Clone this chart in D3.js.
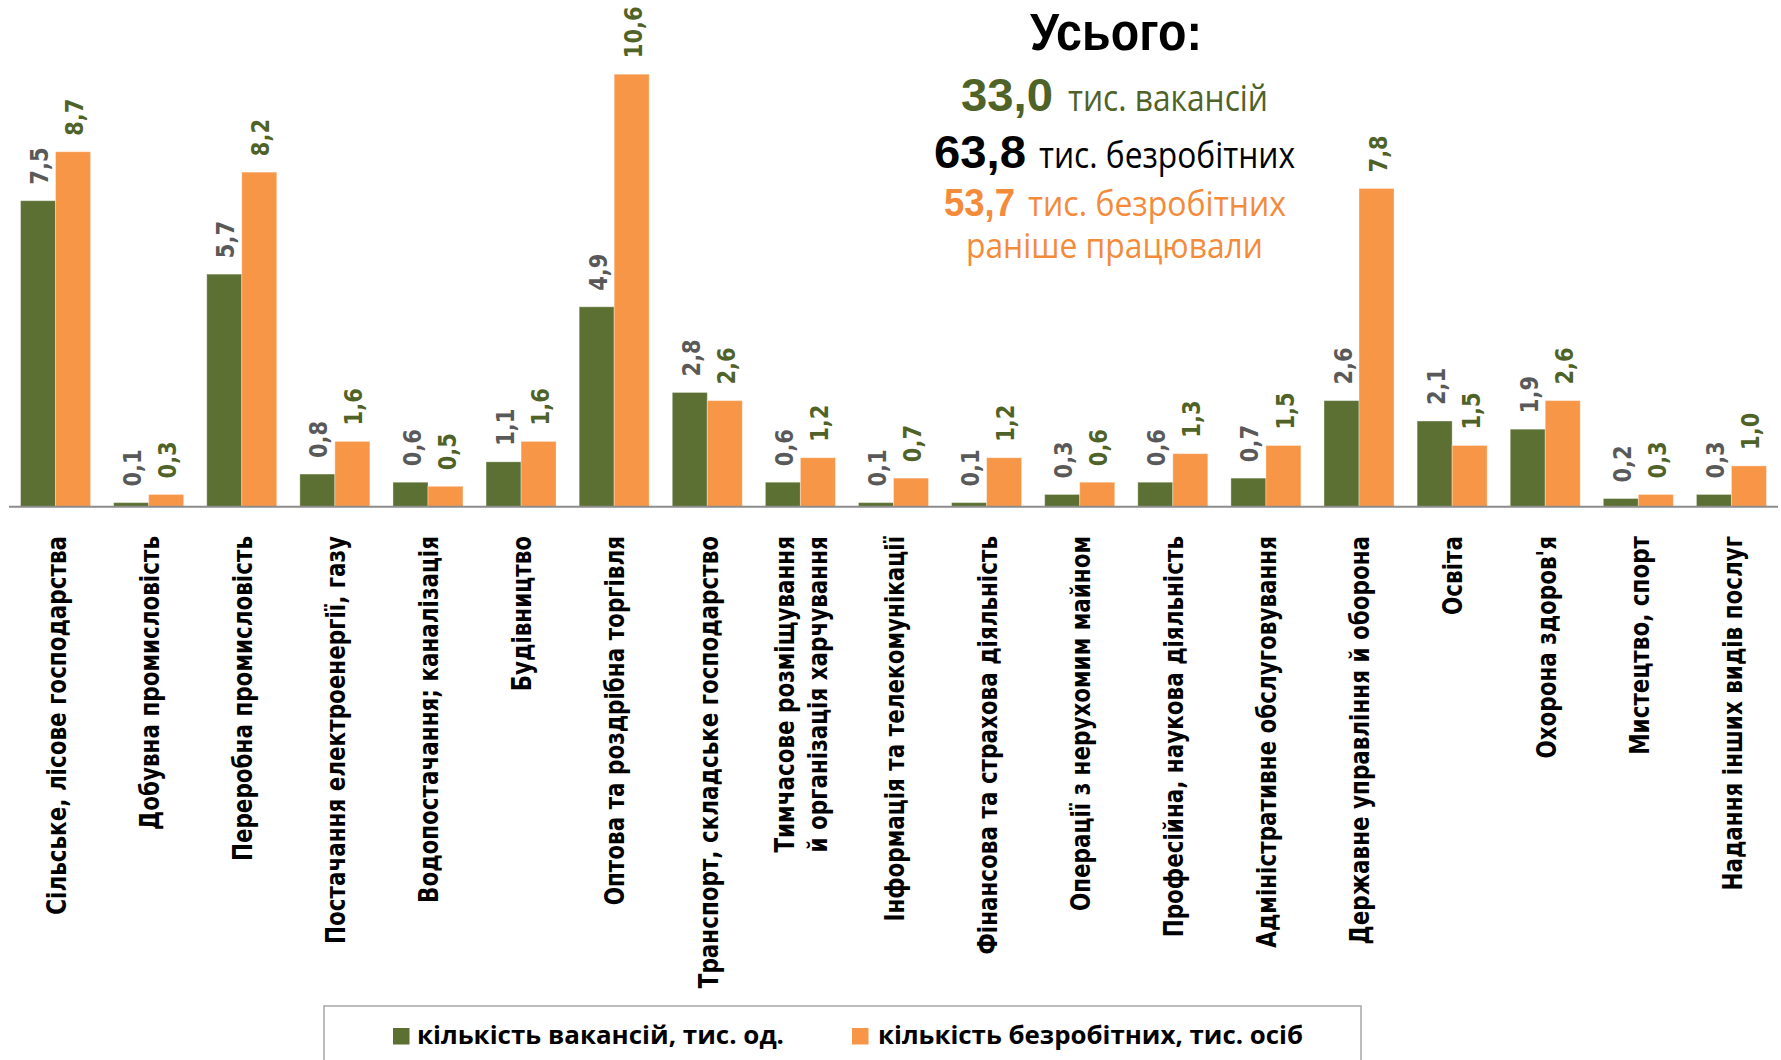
<!DOCTYPE html>
<html>
<head>
<meta charset="utf-8">
<script src="https://cdn.jsdelivr.net/npm/d3@7"></script>
<style>
  body { margin: 0; background: #fff; }
  svg { display: block; }
  .cat { font-family: "DejaVu Sans", Verdana, sans-serif; font-weight: bold; font-size: 21.5px; fill: #000; }
  .val { font-family: "DejaVu Sans", Verdana, sans-serif; font-weight: bold; font-size: 21px; }
  .num { font-family: "Liberation Sans Narrow", "Liberation Sans", Arial, sans-serif; font-weight: bold; }
  .words { font-family: "Open Sans", "Noto Sans", sans-serif; }
  .leg { font-family: "Open Sans", "Noto Sans", sans-serif; font-weight: bold; font-size: 25px; }
</style>
</head>
<body>
<svg class="chart"></svg>
<script>
// categories (economic activities)
var categories = [
  "Сільське, лісове господарства",
  "Добувна промисловість",
  "Переробна промисловість",
  "Постачання електроенергії, газу",
  "Водопостачання; каналізація",
  "Будівництво",
  "Оптова та роздрібна торгівля",
  "Транспорт, складське господарство",
  "Тимчасове розміщування\nй організація харчування",
  "Інформація та телекомунікації",
  "Фінансова та страхова діяльність",
  "Операції з нерухомим майном",
  "Професійна, наукова діяльність",
  "Адміністративне обслуговування",
  "Державне управління й оборона",
  "Освіта",
  "Охорона здоров'я",
  "Мистецтво, спорт",
  "Надання інших видів послуг"
];

// кількість вакансій, тис. од.
var vacancies = [7.5, 0.1, 5.7, 0.8, 0.6, 1.1, 4.9, 2.8, 0.6, 0.1, 0.1, 0.3, 0.6, 0.7, 2.6, 2.1, 1.9, 0.2, 0.3];
// кількість безробітних, тис. осіб
var unemployed = [8.7, 0.3, 8.2, 1.6, 0.5, 1.6, 10.6, 2.6, 1.2, 0.7, 1.2, 0.6, 1.3, 1.5, 7.8, 1.5, 2.6, 0.3, 1.0];

var seriesNames = ["кількість вакансій, тис. од.", "кількість безробітних, тис. осіб"];

// totals block
var totalTitle = "Усього:";
var totalVacancies = "33,0";
var totalUnemployed = "63,8";
var totalWorkedBefore = "53,7";

var W = 1781, H = 1060;
var baseline = 506.7;
var green = "#5b7032", orange = "#f79646", darkGreen = "#4f6228", grey = "#595959", titleOrange = "#f38b3b";

var svg = d3.select(".chart").attr("width", W).attr("height", H);

var x0 = d3.scaleBand().domain(d3.range(categories.length)).range([9, 1778]).paddingInner(0.248).paddingOuter(0.124);
var x1 = d3.scaleBand().domain([0, 1]).range([0, x0.bandwidth()]);
var y = d3.scaleLinear().domain([0, 12]).range([baseline, baseline - 12 * 40.8]);

var rows = categories.map(function(c, i) { return {i: i, values: [vacancies[i], unemployed[i]]}; });

var groups = svg.append("g").selectAll("g").data(rows).enter().append("g")
    .attr("transform", function(d) { return "translate(" + x0(d.i) + ",0)"; });

groups.selectAll("rect").data(function(d) { return d.values; }).enter().append("rect")
    .attr("x", function(d, k) { return x1(k); })
    .attr("y", function(d) { return y(d); })
    .attr("width", x1.bandwidth())
    .attr("height", function(d) { return baseline - y(d); })
    .attr("fill", function(d, k) { return k === 0 ? green : orange; })
    .attr("stroke", "#ffffff").attr("stroke-opacity", 0.35).attr("stroke-width", 1);

// value labels, rotated
groups.selectAll("text.val").data(function(d) { return d.values; }).enter().append("text")
    .attr("class", "val")
    .attr("transform", function(d, k) {
      return "translate(" + (x1(k) + x1.bandwidth() / 2 + 1) + "," + (y(d) - 16) + ") rotate(-90) scale(1,1.2)";
    })
    .attr("dy", "0.36em")
    .attr("fill", function(d, k) { return k === 0 ? grey : darkGreen; })
    .text(function(d) { return d3.format(".1f")(d).replace(".", ","); });

// axis line
svg.append("line").attr("x1", 9).attr("x2", 1778).attr("y1", baseline).attr("y2", baseline)
    .attr("stroke", "#8c8c8c").attr("stroke-width", 2);

// category labels
var catG = svg.append("g").selectAll("g").data(categories).enter().append("g")
    .attr("transform", function(d, i) { return "translate(" + (x0(i) + x0.bandwidth() / 2 + 1) + ",536) rotate(-90) scale(1,1.2)"; });

catG.each(function(d) {
  var lines = d.split("\n");
  var g = d3.select(this);
  var texts = lines.map(function(l, j) {
    return g.append("text").attr("class", "cat")
      .attr("text-anchor", "end")
      .attr("y", (j - (lines.length - 1) / 2) * 27)
      .attr("dy", "0.36em")
      .text(l);
  });
  if (lines.length > 1) {
    var widths = texts.map(function(t) { return t.node().getComputedTextLength(); });
    var maxW = d3.max(widths);
    texts.forEach(function(t, j) { t.attr("x", -(maxW - widths[j]) / 2); });
  }
});

// totals block
function put(txt, cls, size, color, left, base, width) {
  svg.append("text").attr("class", cls)
    .attr("x", left).attr("y", base)
    .attr("font-size", size).attr("fill", color)
    .attr("textLength", width).attr("lengthAdjust", "spacingAndGlyphs")
    .text(txt);
}
put(totalTitle, "num", 51, "#000", 1030, 50, 172);
put(totalVacancies, "num", 46, darkGreen, 961, 111, 92);
put("тис. вакансій", "words", 37, darkGreen, 1068, 111, 200);
put(totalUnemployed, "num", 46, "#000", 934, 168, 92);
put("тис. безробітних", "words", 37, "#000", 1039, 168, 256);
put(totalWorkedBefore, "num", 38, titleOrange, 944, 216, 71);
put("тис. безробітних", "words", 35, titleOrange, 1028, 216, 258);
put("раніше працювали", "words", 35, titleOrange, 966, 258, 297);

// legend
var leg = svg.append("g");
leg.append("rect").attr("x", 324).attr("y", 1006).attr("width", 1037).attr("height", 80)
  .attr("fill", "none").attr("stroke", "#a6a6a6").attr("stroke-width", 1.5);
var legItems = [
  {name: seriesNames[0], color: green, sx: 393, tx: 417, tw: 367},
  {name: seriesNames[1], color: orange, sx: 852, tx: 878, tw: 425}
];
legItems.forEach(function(it) {
  leg.append("rect").attr("x", it.sx).attr("y", 1028).attr("width", 16.5).attr("height", 16.5).attr("fill", it.color);
  leg.append("text").attr("class", "leg").attr("x", it.tx).attr("y", 1044)
    .attr("textLength", it.tw).attr("lengthAdjust", "spacingAndGlyphs").text(it.name);
});
</script>
</body>
</html>
